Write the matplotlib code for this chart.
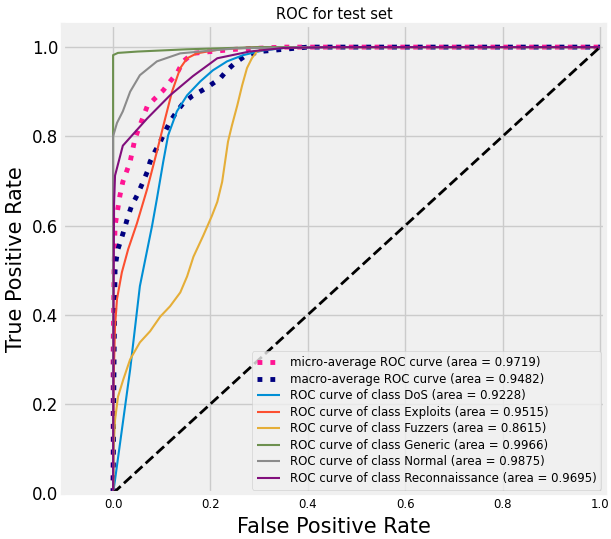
import numpy as np
import matplotlib
matplotlib.use("Agg")
import matplotlib.pyplot as plt

plt.style.use('fivethirtyeight')
plt.rcParams['font.family'] = ['DejaVu Sans']

# values
micro_fpr = [0, 0.0, 0.002, 0.004, 0.014, 0.02, 0.035, 0.045, 0.055, 0.07, 0.086, 0.103,
             0.117, 0.131, 0.144, 0.164, 0.2, 0.25, 0.35, 1.0]
micro_tpr = [0, 0.3, 0.5, 0.599, 0.667, 0.698, 0.743, 0.795, 0.824, 0.867, 0.885, 0.903,
             0.923, 0.941, 0.968, 0.986, 0.99, 0.995, 1.0, 1.0]
macro_fpr = [0, 0.002, 0.004, 0.006, 0.01, 0.018, 0.025, 0.031, 0.038, 0.049, 0.06, 0.07,
             0.076, 0.086, 0.097, 0.107, 0.117, 0.131, 0.144, 0.162, 0.183, 0.199,
             0.22, 0.234, 0.25, 0.271, 0.3, 0.4, 1.0]
macro_tpr = [0, 0.3, 0.498, 0.52, 0.547, 0.574, 0.599, 0.622, 0.644, 0.667, 0.694, 0.72,
             0.743, 0.766, 0.788, 0.811, 0.833, 0.856, 0.874, 0.89, 0.903, 0.914,
             0.93, 0.948, 0.964, 0.98, 0.99, 1.0, 1.0]

class_names = ['DoS', 'Exploits', 'Fuzzers', 'Generic', 'Normal', 'Reconnaissance']
class_auc = [0.9228, 0.9515, 0.8615, 0.9966, 0.9875, 0.9695]
class_colors = ['#008fd5', '#fc4f30', '#e5ae38', '#6d904f', '#8b8b8b', '#810f7c']

dos_fpr = [0, 0.004, 0.035, 0.055, 0.08, 0.09, 0.103, 0.113, 0.131, 0.152, 0.179, 0.205,
           0.234, 0.267, 0.306, 0.35, 0.45, 1.0]
dos_tpr = [0, 0.03, 0.277, 0.464, 0.599, 0.66, 0.743, 0.802, 0.856, 0.892, 0.923, 0.948,
           0.968, 0.982, 0.992, 0.998, 1.0, 1.0]
exp_fpr = [0, 0.001, 0.004, 0.008, 0.018, 0.031, 0.049, 0.07, 0.09, 0.107, 0.121, 0.138,
           0.152, 0.172, 0.22, 0.3, 1.0]
exp_tpr = [0, 0.25, 0.374, 0.435, 0.495, 0.547, 0.605, 0.682, 0.766, 0.84, 0.90, 0.953,
           0.975, 0.986, 0.995, 1.0, 1.0]
fuz_fpr = [0, 0.001, 0.004, 0.01, 0.021, 0.035, 0.055, 0.076, 0.097, 0.117, 0.138, 0.152,
           0.165, 0.185, 0.203, 0.214, 0.224, 0.23, 0.236, 0.244, 0.255, 0.265, 0.275,
           0.285, 0.296, 0.33, 0.4, 1.0]
fuz_tpr = [0, 0.1, 0.164, 0.216, 0.255, 0.30, 0.338, 0.363, 0.396, 0.419, 0.45, 0.486,
           0.53, 0.577, 0.622, 0.653, 0.698, 0.743, 0.788, 0.824, 0.869, 0.914, 0.953,
           0.975, 0.991, 0.998, 1.0, 1.0]
gen_fpr = [0, 0.0, 0.01, 0.05, 0.15, 0.3, 1.0]
gen_tpr = [0, 0.982, 0.987, 0.99, 0.995, 1.0, 1.0]
nor_fpr = [0, 0.0, 0.008, 0.02, 0.035, 0.055, 0.09, 0.138, 0.25, 0.4, 1.0]
nor_tpr = [0, 0.80, 0.83, 0.856, 0.90, 0.937, 0.968, 0.986, 0.997, 1.0, 1.0]
rec_fpr = [0, 0.001, 0.002, 0.004, 0.02, 0.07, 0.117, 0.164, 0.214, 0.28, 0.35, 0.45, 1.0]
rec_tpr = [0, 0.4, 0.65, 0.712, 0.779, 0.84, 0.892, 0.935, 0.975, 0.99, 0.998, 1.0, 1.0]

class_fpr = [dos_fpr, exp_fpr, fuz_fpr, gen_fpr, nor_fpr, rec_fpr]
class_tpr = [dos_tpr, exp_tpr, fuz_tpr, gen_tpr, nor_tpr, rec_tpr]

fig = plt.figure(figsize=(6.11, 5.39), dpi=100, facecolor='white')
ax = fig.add_axes([0.103, 0.085, 0.887, 0.869])
ax.set_facecolor('#f0f0f0')

ax.plot(micro_fpr, micro_tpr, label='micro-average ROC curve (area = 0.9719)',
        color='deeppink', linestyle=':', linewidth=3.5)
ax.plot(macro_fpr, macro_tpr, label='macro-average ROC curve (area = 0.9482)',
        color='navy', linestyle=':', linewidth=3.5)
for name, auc, col, f, t in zip(class_names, class_auc, class_colors, class_fpr, class_tpr):
    ax.plot(f, t, color=col, lw=1.5,
            label='ROC curve of class {0} (area = {1:0.4f})'.format(name, auc))

ax.plot([0, 1], [0, 1], 'k--', lw=2)
ax.set_xlim([-0.103, 1.01])
ax.set_ylim([0.0, 1.05])
ax.tick_params(axis='y', labelsize=12)
ax.tick_params(axis='x', labelsize=8.5)
ax.set_xlabel('False Positive Rate', fontsize=15)
ax.set_ylabel('True Positive Rate', fontsize=15)
ax.set_title('ROC for test set', fontsize=10.5, pad=4)
ax.legend(loc='lower right', fontsize=8.5, borderaxespad=0.3, labelspacing=0.3)

fig.savefig('out.png', dpi=100, facecolor='white')
